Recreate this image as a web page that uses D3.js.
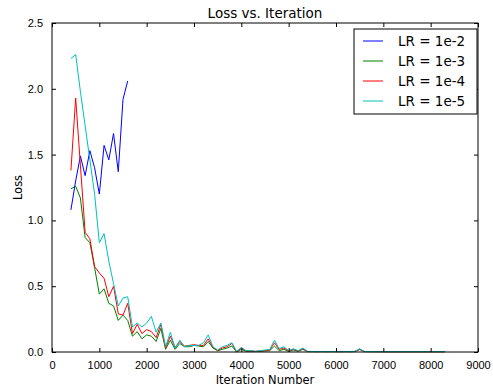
<!DOCTYPE html>
<html>
<head>
<meta charset="utf-8">
<script src="https://cdn.jsdelivr.net/npm/d3@7"></script>
<style>
  html, body { margin: 0; padding: 0; background: #fff; }
  svg { display: block; font-family: "DejaVu Sans", sans-serif; }
  .tick text { font-size: 11px; fill: #000; }
</style>
</head>
<body>
<svg id="chart" width="493" height="387"></svg>
<script>
const iterations = [
  400, 500, 600, 700, 800, 900, 1000, 1100, 1200, 1300,
  1400, 1500, 1600, 1700, 1800, 1900, 2000, 2100, 2200, 2300,
  2400, 2500, 2600, 2700, 2800, 2900, 3000, 3100, 3200, 3300,
  3400, 3500, 3600, 3700, 3800, 3900, 4000, 4100, 4200, 4300,
  4400, 4500, 4600, 4700, 4800, 4900, 5000, 5100, 5200, 5300,
  5400, 5500, 5600, 5700, 5800, 5900, 6000, 6100, 6200, 6300,
  6400, 6500, 6600, 6700, 6800, 6900, 7000, 7100, 7200, 7300,
  7400, 7500, 7600, 7700, 7800, 7900, 8000, 8100, 8200, 8300
];

// LR = 1e-2 diverged early, only 13 points
const lossLr2 = [1.08, 1.3, 1.49, 1.34, 1.53, 1.4, 1.2, 1.57, 1.46, 1.66, 1.37, 1.92, 2.06];

const lossLr3 = [
  1.24, 1.26, 1.17, 0.87, 0.83, 0.64, 0.44, 0.48, 0.37, 0.35,
  0.24, 0.28, 0.24, 0.12, 0.155, 0.1, 0.13, 0.12, 0.08, 0.18,
  0.02, 0.09, 0.02, 0.065, 0.04, 0.04, 0.05, 0.045, 0.04, 0.08,
  0.03, 0.01, 0.02, 0.03, 0.045, 0.0, 0.02, 0.005, 0.005, 0.003,
  0.005, 0.008, 0.01, 0.045, 0.01, 0.02, 0.005, 0.015, 0.005, 0.02,
  0.003, 0.003, 0.002, 0.003, 0.002, 0.003, 0.002, 0.002, 0.003, 0.002,
  0.003, 0.02, 0.003, 0.002, 0.002, 0.002, 0.002, 0.002, 0.002, 0.002,
  0.002, 0.002, 0.002, 0.002, 0.002, 0.002, 0.002, 0.002, 0.002, 0.002
];

const lossLr4 = [
  1.38, 1.93, 1.42, 0.91, 0.86, 0.65, 0.6, 0.56, 0.42, 0.5,
  0.29, 0.28, 0.37, 0.14, 0.21, 0.14, 0.17, 0.155, 0.11, 0.21,
  0.03, 0.12, 0.035, 0.08, 0.045, 0.05, 0.055, 0.05, 0.05, 0.1,
  0.035, 0.012, 0.03, 0.04, 0.065, 0.002, 0.03, 0.008, 0.008, 0.005,
  0.008, 0.01, 0.015, 0.07, 0.02, 0.03, 0.008, 0.02, 0.008, 0.025,
  0.003, 0.003, 0.003, 0.003, 0.003, 0.003, 0.003, 0.003, 0.003, 0.003,
  0.004, 0.02, 0.003, 0.003, 0.003, 0.003, 0.002, 0.002, 0.002, 0.002,
  0.002, 0.002, 0.002, 0.002, 0.002, 0.002, 0.002, 0.002, 0.002, 0.002
];

const lossLr5 = [
  2.23, 2.26, 1.98, 1.72, 1.46, 1.2, 0.83, 0.9, 0.69, 0.52,
  0.35, 0.41, 0.42, 0.19, 0.22, 0.19, 0.22, 0.27, 0.15, 0.22,
  0.04, 0.15, 0.03, 0.09, 0.04, 0.05, 0.05, 0.05, 0.07, 0.13,
  0.04, 0.015, 0.04, 0.05, 0.07, 0.005, 0.035, 0.01, 0.01, 0.005,
  0.01, 0.015, 0.02, 0.09, 0.025, 0.04, 0.01, 0.025, 0.01, 0.03,
  0.005, 0.004, 0.004, 0.004, 0.004, 0.004, 0.004, 0.005, 0.004, 0.004,
  0.005, 0.025, 0.004, 0.004, 0.003, 0.003, 0.003, 0.003, 0.003, 0.003,
  0.003, 0.003, 0.003, 0.003, 0.003, 0.003, 0.003, 0.003, 0.003, 0.003
];

const seriesNames = ["LR = 1e-2", "LR = 1e-3", "LR = 1e-4", "LR = 1e-5"];
const seriesColors = ["#0000ff", "#008000", "#ff0000", "#00bfbf"];
const seriesValues = [lossLr2, lossLr3, lossLr4, lossLr5];

const xTicks = [0, 1000, 2000, 3000, 4000, 5000, 6000, 7000, 8000, 9000];
const yTicks = [0, 0.5, 1, 1.5, 2, 2.5];

const svg = d3.select("#chart");
const margin = { top: 23, right: 15, bottom: 35, left: 52 };
const width = 493 - margin.left - margin.right;
const height = 387 - margin.top - margin.bottom;

const x = d3.scaleLinear().domain([0, 9000]).range([0, width]);
const y = d3.scaleLinear().domain([0, 2.5]).range([height, 0]);

const chart = svg
  .append("g")
  .attr("transform", `translate(${margin.left},${margin.top})`);

const series = seriesValues.map((vals, i) => ({
  name: seriesNames[i],
  color: seriesColors[i],
  points: vals.map((v, j) => ({ it: iterations[j], loss: v })),
}));

const line = d3
  .line()
  .x((d) => x(d.it))
  .y((d) => y(d.loss));

chart
  .append("g")
  .selectAll("path")
  .data(series)
  .join("path")
  .attr("fill", "none")
  .attr("stroke", (d) => d.color)
  .attr("stroke-width", 1)
  .attr("stroke-linejoin", "round")
  .attr("d", (d) => line(d.points));

// axes with inward ticks on all four sides, matplotlib classic style
const fmtY = (d) => (d === 0 || d === 1 || d === 2 ? d.toFixed(1) : String(d));

chart
  .append("g")
  .attr("transform", `translate(0,${height})`)
  .call(d3.axisBottom(x).tickValues(xTicks).tickSize(-4).tickPadding(9).tickFormat(d3.format("d")))
  .call((g) => g.select(".domain").remove());

chart
  .append("g")
  .call(d3.axisTop(x).tickValues(xTicks).tickSize(-4).tickFormat(""))
  .call((g) => g.select(".domain").remove());

chart
  .append("g")
  .call(d3.axisLeft(y).tickValues(yTicks).tickSize(-4).tickPadding(9).tickFormat(fmtY))
  .call((g) => g.select(".domain").remove());

chart
  .append("g")
  .attr("transform", `translate(${width},0)`)
  .call(d3.axisRight(y).tickValues(yTicks).tickSize(-4).tickFormat(""))
  .call((g) => g.select(".domain").remove());

chart
  .append("rect")
  .attr("width", width)
  .attr("height", height)
  .attr("fill", "none")
  .attr("stroke", "#000")
  .attr("stroke-width", 1);

// legend
const legend = chart.append("g").attr("transform", `translate(${width - 124},6)`);

legend
  .append("rect")
  .attr("width", 123)
  .attr("height", 85)
  .attr("fill", "#fff")
  .attr("stroke", "#000")
  .attr("stroke-width", 1);

const rows = legend
  .selectAll("g.row")
  .data(series)
  .join("g")
  .attr("class", "row")
  .attr("transform", (d, i) => `translate(0,${12 + i * 20})`);

rows
  .append("line")
  .attr("x1", 9)
  .attr("x2", 29)
  .attr("stroke", (d) => d.color)
  .attr("stroke-width", 1);

rows
  .append("text")
  .attr("x", 44)
  .attr("dy", "0.35em")
  .attr("font-size", 13.5)
  .text((d) => d.name);

svg
  .append("text")
  .attr("x", margin.left + width / 2)
  .attr("y", 18)
  .attr("text-anchor", "middle")
  .attr("font-size", 13.5)
  .text("Loss vs. Iteration");

svg
  .append("text")
  .attr("x", margin.left + width / 2)
  .attr("y", 384)
  .attr("text-anchor", "middle")
  .attr("font-size", 11.5)
  .text("Iteration Number");

svg
  .append("text")
  .attr("transform", "rotate(-90)")
  .attr("x", -(margin.top + height / 2))
  .attr("y", 22)
  .attr("text-anchor", "middle")
  .attr("font-size", 11.5)
  .text("Loss");
</script>
</body>
</html>
